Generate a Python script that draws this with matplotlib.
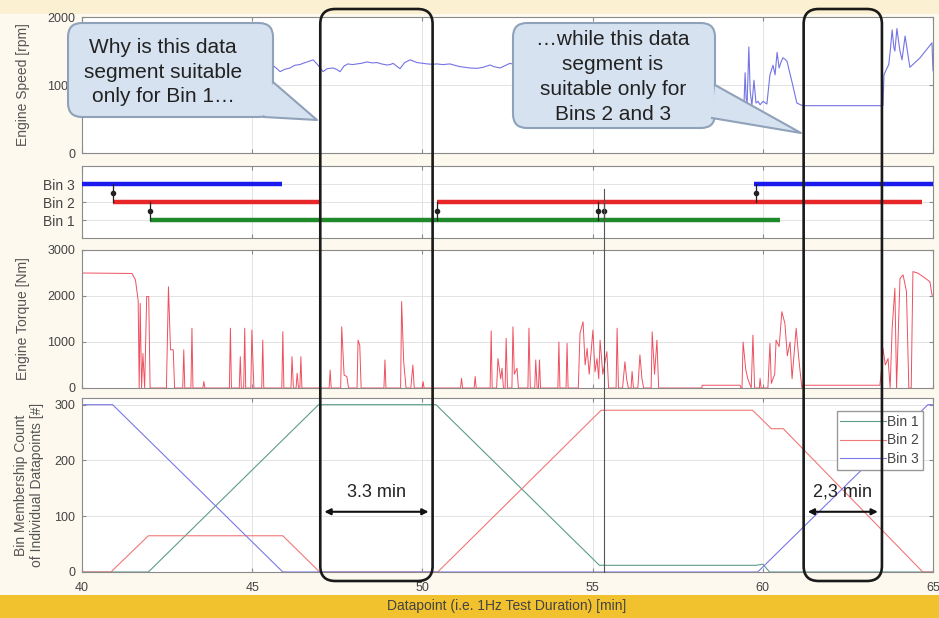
import numpy as np
import matplotlib
matplotlib.use("Agg")
import matplotlib.pyplot as plt
from matplotlib.patches import FancyBboxPatch, Polygon, Rectangle
from matplotlib.lines import Line2D
from matplotlib.transforms import IdentityTransform

plt.rcParams['font.family'] = ['Liberation Sans', 'DejaVu Sans']

# ---------------- data ----------------
x_ticks = [40, 45, 50, 55, 60, 65]

speed_time = [45.58, 45.70, 45.82, 45.95, 46.11, 46.25, 46.40, 46.49, 46.62, 46.79, 46.93, 47.08,
              47.20, 47.37, 47.48, 47.58, 47.70, 47.81, 47.95, 48.08, 48.22, 48.37, 48.52, 48.67,
              48.80, 48.96, 49.05, 49.14, 49.34, 49.48, 49.64, 49.84, 50.00, 50.14, 50.30, 50.43,
              50.60, 50.81, 50.95, 51.10, 51.25, 51.40, 51.60, 51.78, 51.90, 51.99, 52.10, 52.28,
              52.45, 52.57, 52.72, 52.87, np.nan,
              59.33, 59.45, 59.48, 59.51, 59.54, 59.59, 59.63, 59.68, 59.74, 59.80, 59.86, 59.92,
              60.01, 60.12, 60.21, 60.30, 60.36, 60.42, 60.48, 60.53, 60.59, 60.65, 60.71, 60.86,
              61.00, 61.15, 61.18, 63.53, 63.56, 63.65, 63.70, 63.74, 63.80, 63.85, 63.88, 63.94,
              64.00, 64.03, 64.09, 64.18, 64.32, 64.62, 64.97, 65.00]
speed_rpm = [1300, 1250, 1196, 1230, 1250, 1290, 1300, 1318, 1340, 1370, 1294, 1196,
             1240, 1250, 1230, 1196, 1280, 1310, 1300, 1310, 1320, 1340, 1325, 1330,
             1310, 1294, 1300, 1318, 1240, 1330, 1370, 1330, 1320, 1310, 1305, 1310,
             1300, 1310, 1290, 1270, 1260, 1250, 1245, 1260, 1280, 1294, 1270, 1250,
             1290, 1318, 1300, 1318, np.nan,
             735, 760, 1180, 800, 740, 1560, 900, 700, 1070, 735, 760, 710,
             760, 720, 1150, 1290, 1150, 1480, 1250, 1330, 1400, 1380, 1350, 1040,
             735, 700, 696, 696, 1150, 1250, 1300, 1480, 1810, 1550, 1500, 1830,
             1600, 1500, 1370, 1720, 1260, 1400, 1620, 1210]

torque_time = [40.00, 41.47, 41.57, 41.65, 41.68,
               41.71, 41.75, 41.79, 41.84, 41.90, 41.96, 42.00,
               42.48, 42.54, 42.60, 42.68, 42.72,
               42.96, 42.99, 43.02, 43.20, 43.23, 43.26, 43.55, 43.58, 43.61,
               44.33, 44.36, 44.39, 44.62, 44.65, 44.68, 44.75, 44.78, 44.81,
               44.96, 44.99, 45.03, 45.05, 45.28, 45.31, 45.34, 45.87, 45.90, 45.93,
               46.14, 46.17, 46.21, 46.29, 46.32, 46.36, 46.40, 46.43, 46.46,
               47.26, 47.29, 47.32, 47.60, 47.63, 47.70, 47.78, 47.83,
               48.08, 48.11, 48.16, 48.20, 48.87, 48.90, 48.93,
               49.36, 49.39, 49.45, 49.52, 49.66, 49.72, 49.76, 49.99, 50.02, 50.05,
               51.12, 51.15, 51.18, 51.52, 51.55, 51.58,
               51.99, 52.02, 52.05, 52.18, 52.22, 52.30, 52.34, 52.38, 52.43, 52.46, 52.50,
               52.63, 52.66, 52.70, 52.78, 52.82,
               53.10, 53.13, 53.17, 53.30, 53.33, 53.37, 53.41, 53.44, 53.47,
               53.98, 54.01, 54.04, 54.22, 54.25, 54.28,
               54.58, 54.63, 54.72, 54.78, 54.84, 54.90, 55.01, 55.07, 55.13, 55.18, 55.22, 55.30,
               55.42, 55.47,
               55.69, 55.72, 55.76, 55.88, 55.95, 56.00, 56.05, 56.13, 56.16, 56.20,
               56.33, 56.39, 56.45, 56.50, 56.72, 56.75, 56.82, 56.89, 56.94,
               58.21, 58.22, 59.33, 59.36,
               59.39, 59.42, 59.50, 59.56, 59.66, 59.71, 59.76, 59.90, 59.92, 59.95,
               60.15, 60.21, 60.25, 60.35, 60.39, 60.48, 60.56, 60.65, 60.72, 60.80, 60.86, 60.98,
               61.05, 61.09, 61.15,
               61.18, 63.44,
               63.50, 63.53, 63.60, 63.68, 63.74, 63.80, 63.88, 63.93, 64.03, 64.12, 64.22, 64.29,
               64.36, 64.41, 64.55, 64.71, 64.91, 64.97, 65.00]
torque_nm = [2500, 2490, 2350, 1900, 0,
             1840, 0, 750, 0, 1990, 1990, 0,
             0, 2200, 830, 830, 0,
             0, 830, 0, 0, 1300, 0, 0, 140, 0,
             0, 1300, 0, 0, 680, 0, 0, 1300, 0,
             0, 1260, 400, 0, 0, 1040, 0, 0, 1225, 0,
             0, 680, 0, 0, 320, 0, 0, 680, 0,
             0, 390, 0, 0, 1330, 280, 250, 0,
             0, 1040, 930, 0, 0, 610, 0,
             0, 1880, 570, 0, 0, 500, 0, 0, 140, 0,
             0, 210, 0, 0, 250, 0,
             0, 1240, 0, 0, 640, 200, 430, 0, 0, 1080, 0,
             0, 1330, 300, 430, 0,
             0, 1300, 0, 0, 610, 0, 0, 610, 0,
             0, 1000, 0, 0, 970, 0,
             0, 1190, 1440, 500, 860, 300, 1260, 350, 640, 200, 1040, 300,
             790, 0,
             0, 1300, 0, 0, 570, 200, 0, 0, 360, 0,
             0, 720, 200, 0, 0, 1220, 300, 1040, 0,
             0, 60, 60, 0,
             0, 1000, 400, 200, 0, 1150, 0, 0, 210, 0,
             0, 970, 100, 300, 1040, 900, 1660, 1400, 700, 1000, 200, 1300,
             700, 400, 0,
             60, 60,
             500, 860, 500, 640, 0, 1300, 2170, 0, 2380, 2460, 2100, 0,
             0, 2530, 2500, 2420, 2310, 2020, 2020]

bin_labels = ['Bin 1', 'Bin 2', 'Bin 3']
bin_levels = [1, 2, 3]
bin1_segments = [(42.00, 60.50)]
bin2_segments = [(40.91, 46.99), (50.43, 64.68)]
bin3_segments = [(40.00, 45.88), (59.74, 65.00)]
switch_time = [40.91, 42.00, 50.43, 55.15, 55.33, 59.80]
switch_from = [3, 2, 1, 2, 1, 3]
switch_to = [2, 1, 2, 1, 2, 2]

count1_time = [40.0, 41.95, 46.95, 50.40, 55.20, 59.80, 60.00, 60.20, 65.0]
count1_val = [0, 0, 300, 300, 12, 12, 14, 0, 0]
count2_time = [40.0, 40.85, 41.95, 45.90, 46.98, 50.45, 55.25, 59.70, 60.25, 60.60, 64.70, 65.0]
count2_val = [0, 0, 65, 65, 0, 0, 290, 290, 257, 257, 0, 0]
count3_time = [40.0, 40.90, 45.90, 59.85, 64.85, 65.0]
count3_val = [300, 300, 0, 0, 300, 300]

box_spans = [(47.0, 50.3), (61.2, 63.5)]
box_texts = ['3.3 min', '2,3 min']

# ---------------- figure ----------------
W, H = 939, 618
fig = plt.figure(figsize=(W / 100, H / 100), dpi=100, facecolor='#fdf9ee')

# slide decorations
fig.add_artist(Rectangle((0, 0), 1, 23 / H, transform=fig.transFigure,
                         facecolor='#f2c12e', edgecolor='none', zorder=0))
fig.add_artist(Rectangle((0, 1 - 14 / H), 1, 14 / H, transform=fig.transFigure,
                         facecolor='#fbf1d2', edgecolor='none', zorder=0))


def ax_at(left, top, right, bottom):
    return fig.add_axes([left / W, 1 - bottom / H, (right - left) / W, (bottom - top) / H])


ax1 = ax_at(82, 17, 933, 153)
ax2 = ax_at(82, 166, 933, 238)
ax3 = ax_at(82, 250, 933, 388)
ax4 = ax_at(82, 398, 933, 572)

spine_c = '#8a8a8a'
for ax in (ax1, ax2, ax3, ax4):
    ax.set_xlim(40, 65)
    ax.set_xticks(x_ticks)
    ax.grid(True, color='#dedede', lw=0.6)
    ax.set_axisbelow(True)
    ax.set_facecolor('white')
    for s in ax.spines.values():
        s.set_color(spine_c)
        s.set_linewidth(0.8)
    ax.tick_params(direction='in', top=True, right=True, length=3, color=spine_c,
                   labelsize=9, labelcolor='#444444', pad=5)
    if ax is not ax4:
        ax.tick_params(labelbottom=False)

lab_c = '#555555'
# Panel 1: engine speed
ax1.plot(speed_time, speed_rpm, color='#7474e4', lw=0.8)
ax1.set_ylim(0, 2000)
ax1.set_yticks([0, 1000, 2000])
ax1.set_ylabel('Engine Speed [rpm]', fontsize=10, color=lab_c)
ax1.yaxis.set_label_coords(-0.061, 0.5)

# Panel 2: bins
bin_colors = ['#1f8a2a', '#e8262a', '#1a1aee']
for level, segs, c in zip(bin_levels, [bin1_segments, bin2_segments, bin3_segments], bin_colors):
    for a, b in segs:
        ax2.plot([a, b], [level, level], color=c, lw=3.2, solid_capstyle='butt', zorder=3)
for t, a, b in zip(switch_time, switch_from, switch_to):
    ax2.plot([t, t], [a, b], color='#222222', lw=0.9, zorder=4)
    ax2.plot([t], [(a + b) / 2], marker='o', ms=3, color='#222222', zorder=4)
ax2.set_ylim(0, 4)
ax2.set_yticks(bin_levels)
ax2.set_yticklabels(bin_labels, fontsize=10)

# Panel 3: torque
ax3.plot(torque_time, torque_nm, color='#ee5060', lw=0.7)
ax3.set_ylim(0, 3000)
ax3.set_yticks([0, 1000, 2000, 3000])
ax3.set_ylabel('Engine Torque [Nm]', fontsize=10, color=lab_c)
ax3.yaxis.set_label_coords(-0.061, 0.5)

# Panel 4: counts
c1, = ax4.plot(count1_time, count1_val, color='#5c9c8c', lw=0.8)
c2, = ax4.plot(count2_time, count2_val, color='#f07878', lw=0.8)
c3, = ax4.plot(count3_time, count3_val, color='#7878e6', lw=0.8)
ax4.set_ylim(0, 312)
ax4.set_yticks([0, 100, 200, 300])
ax4.set_ylabel('Bin Membership Count\nof Individual Datapoints [#]', fontsize=10,
               color=lab_c, linespacing=1.15)
ax4.yaxis.set_label_coords(-0.045, 0.5)
ax4.tick_params(axis='x', pad=7)
leg = ax4.legend([c1, c2, c3], bin_labels, loc='upper right', bbox_to_anchor=(0.988, 0.925),
                 fontsize=10, handlelength=3.3, handletextpad=0.1, borderpad=0.25,
                 labelspacing=0.35, fancybox=False, framealpha=1, edgecolor='#999999',
                 borderaxespad=0)
for t in leg.get_texts():
    t.set_color('#444444')

fig.text(507 / W, 1 - 606 / H, 'Datapoint (i.e. 1Hz Test Duration) [min]', fontsize=10,
         color='#444444', ha='center', va='center')

# vertical marker line through lower panels
xd = ax4.transData.transform((55.33, 0))[0]
y_top = ax2.transData.transform((55.33, 2.7))[1]
y_bot = ax4.transData.transform((55.33, 0))[1]
fig.add_artist(Line2D([xd, xd], [y_top, y_bot], transform=IdentityTransform(),
                      color='#555555', lw=0.8, zorder=1))

# rounded highlight boxes
for (a, b), txt in zip(box_spans, box_texts):
    xa = ax4.transData.transform((a, 0))[0]
    xb = ax4.transData.transform((b, 0))[0]
    top = H - 9
    bot = H - 581
    fig.add_artist(FancyBboxPatch((xa, bot), xb - xa, top - bot,
                                  boxstyle='round,pad=0,rounding_size=15',
                                  transform=IdentityTransform(), facecolor='none',
                                  edgecolor='#1a1a1a', lw=1.9, zorder=4))
    ax4.annotate('', xy=(a + 0.12, 108), xytext=(b - 0.12, 108),
                 arrowprops=dict(arrowstyle='<|-|>', color='#111111', lw=1.5,
                                 mutation_scale=9, shrinkA=0, shrinkB=0), zorder=6)
    ax4.text((a + b) / 2, 143, txt, fontsize=13, ha='center', va='center', color='#222222',
             zorder=6)

# callout bubbles
bub_fc = '#d6e2ef'
bub_ec = '#8fa2b9'


def bubble(x0, y0, x1, y1, tail, text, cx, cy):
    fig.add_artist(FancyBboxPatch((x0, H - y1), x1 - x0, y1 - y0,
                                  boxstyle='round,pad=0,rounding_size=14',
                                  transform=IdentityTransform(), facecolor=bub_fc,
                                  edgecolor=bub_ec, lw=1.5, zorder=7))
    pts = [(x, H - y) for x, y in tail]
    fig.add_artist(Polygon(pts, closed=True, transform=IdentityTransform(),
                           facecolor=bub_fc, edgecolor='none', zorder=7.1))
    fig.add_artist(Line2D([pts[0][0], pts[1][0], pts[2][0]], [pts[0][1], pts[1][1], pts[2][1]],
                          transform=IdentityTransform(), color=bub_ec, lw=1.5, zorder=7.2))
    fig.text(cx / W, 1 - cy / H, text, fontsize=15, color='#222222', ha='center',
             va='center', linespacing=1.38, zorder=8)


bubble(68, 23, 273, 117, [(273, 82), (317, 120), (264, 117)],
       'Why is this data\nsegment suitable\nonly for Bin 1\u2026', 163, 72)
bubble(513, 23, 715, 128, [(715, 85), (801, 133), (712, 118)],
       '\u2026while this data\nsegment is\nsuitable only for\nBins 2 and 3', 613, 77)

fig.savefig('out.png', dpi=100, facecolor=fig.get_facecolor())
